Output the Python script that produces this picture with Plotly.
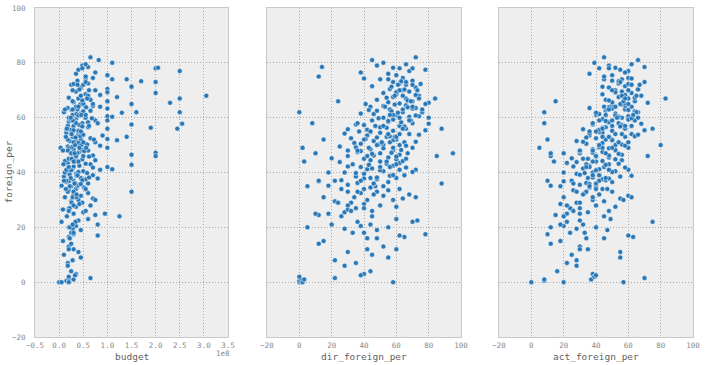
import plotly.graph_objects as go

# ---------------- data ----------------
foreign_per = [
    # 0-15
    0, 0.5, 1, 0, 1, 1.5, 3, 2, 0, 2.5,
    7, 8, 9, 10, 11, 12, 13, 14,
    # 15-25
    15, 16, 17, 17.5, 18, 19, 20, 20.5, 21, 22,
    23, 24, 24.5, 16.5, 19.5, 22.5,
    # 25-35
    25, 25.5, 26, 27, 27.5, 28, 29, 29.5, 30, 30.5,
    31, 31.5, 32, 32.5, 33, 33.5, 34, 34.5, 26.5, 28.5,
    30, 31, 33, 34, 25, 35,
    # 35-45
    35, 35.5, 36, 36.5, 37, 37.5, 38, 38.5, 39, 39.5,
    40, 40.5, 41, 41.5, 42, 42.5, 43, 43.5, 44, 44.5,
    35.2, 36.2, 37.2, 38.2, 39.2, 40.2, 41.2, 42.2, 43.2, 44.2,
    35.8, 36.8, 37.8, 38.8, 39.8, 40.8, 41.8, 42.8, 43.8, 44.8,
    # 45-55
    45, 45.5, 46, 46.5, 47, 47.5, 48, 48.5, 49, 49.5,
    50, 50.5, 51, 51.5, 52, 52.5, 53, 53.5, 54, 54.5,
    45.2, 46.2, 47.2, 48.2, 49.2, 50.2, 51.2, 52.2, 53.2, 54.2,
    45.8, 46.8, 47.8, 48.8, 49.8, 50.8, 51.8, 52.8, 53.8, 54.8,
    46, 48, 50, 52, 54, 47, 49, 51, 53, 55,
    # 55-65
    55.2, 55.6, 56, 56.5, 57, 57.5, 58, 58.5, 59, 59.5,
    60, 60.5, 61, 61.5, 62, 62.5, 63, 63.5, 64, 64.5,
    55.4, 56.3, 57.3, 58.3, 59.3, 60.3, 61.3, 62.3, 63.3, 64.3,
    55.8, 56.8, 57.8, 58.8, 59.8, 60.8, 61.8, 62.8, 63.8, 64.8,
    56, 58, 60, 62, 64, 57, 59, 61, 63, 65,
    # 65-75
    65.2, 65.6, 66, 66.5, 67, 67.5, 68, 68.5, 69, 69.5,
    70, 70.5, 71, 71.5, 72, 72.5, 73, 73.5,
    74, 74.5, 65.4, 66.3, 67.3, 68.3, 69.3, 70.3, 71.3, 72.3,
    73.3, 74.3, 66, 68, 70, 72, 74, 67,
    # 75-83
    75, 75.5, 76, 77, 77.5, 78, 78.5, 79, 80, 82,
    79.5, 76.5, 78.2, 81,
    # mixed
    62, 49, 47, 37, 20, 58, 44, 52, 66, 40,
    33, 27, 55, 48, 42, 36, 61, 53, 45, 39,
    70, 64, 57, 50, 43, 38, 31, 24, 18, 12,
    68, 63, 59, 51, 46, 41, 35, 29, 22, 16,
    72, 67, 60, 56, 49, 44, 37, 32, 26, 21,
    78, 73, 65, 54, 47, 42, 34, 28, 6, 4,
]

budget_musd = [
    0, 15, 20, 20, 30, 65, 35, 20, 5, 33,
    18, 28, 45, 10, 40, 30, 20, 25,
    8, 22, 80, 30, 25, 45, 20, 35, 80, 5,
    60, 125, 75, 20, 28, 40,
    30, 50, 55, 20, 35, 65, 48, 25, 40, 70,
    12, 45, 30, 60, 150, 20, 35, 52, 8, 42,
    75, 28, 18, 55, 95, 38,
    25, 40, 60, 15, 30, 55, 45, 10, 70, 35,
    20, 50, 85, 28, 100, 42, 65, 18, 38, 75,
    5, 33, 48, 62, 22, 40, 110, 30, 55, 12,
    45, 20, 80, 36, 58, 25, 70, 150, 32, 48,
    20, 35, 50, 150, 25, 42, 60, 30, 100, 18,
    38, 55, 75, 22, 45, 65, 28, 90, 40, 15,
    32, 70, 200, 48, 26, 58, 36, 100, 44, 24,
    62, 30, 52, 20, 85, 40, 120, 34, 50, 28,
    200, 18, 46, 72, 25, 38, 56, 30, 140, 42,
    40, 25, 100, 60, 30, 150, 48, 20, 75, 35,
    55, 100, 28, 45, 250, 65, 38, 18, 85, 52,
    30, 190, 42, 60, 22, 110, 36, 50, 100, 70,
    15, 48, 255, 32, 68, 40, 130, 26, 56, 44,
    245, 80, 20, 160, 35, 62, 100, 46, 28, 150,
    50, 30, 100, 65, 40, 120, 305, 55, 200, 35,
    75, 100, 45, 150, 25, 60, 200, 38,
    110, 70, 230, 48, 20, 85, 100, 42, 150, 30,
    170, 55, 100, 60, 28, 50, 140, 250,
    55, 100, 35, 250, 40, 200, 60, 48, 110, 65,
    55, 75, 205, 82,
    10, 3, 25, 15, 22, 35, 40, 18, 28, 12,
    30, 22, 45, 8, 20, 32, 55, 14, 26, 38,
    62, 40, 18, 33, 9, 24, 36, 16, 30, 20,
    45, 12, 28, 50, 35, 15, 22, 26, 34, 22,
    38, 58, 24, 16, 42, 30, 10, 36, 20, 28,
    48, 55, 70, 26, 32, 20, 14, 30, 18, 25,
]

dir_foreign_per = [
    0, 0, 1, 2, 3, 22, 40, 0, 58, 38,
    35, 22, 55, 45, 30, 60, 52, 12,
    15, 42, 62, 78, 33, 48, 55, 38, 20, 70,
    60, 45, 12, 65, 28, 73,
    10, 28, 45, 35, 60, 50, 32, 22, 42, 64,
    15, 52, 68, 38, 48, 55, 26, 44, 30, 40,
    58, 72, 36, 62, 18, 47,
    5, 30, 88, 55, 22, 48, 60, 35, 65, 40,
    28, 52, 72, 45, 38, 58, 33, 62, 50, 44,
    18, 36, 26, 48, 58, 70, 42, 30, 54, 64,
    46, 12, 40, 56, 35, 50, 66, 43, 25, 60,
    40, 55, 30, 62, 95, 36, 58, 44, 70, 25,
    52, 38, 65, 46, 60, 32, 54, 42, 68, 50,
    20, 46, 57, 63, 35, 49, 72, 41, 56, 28,
    60, 45, 38, 52, 66, 34, 58, 48, 74, 44,
    85, 30, 62, 40, 55, 67, 43, 51, 59, 37,
    58, 42, 66, 50, 62, 35, 70, 55, 45, 68,
    52, 74, 60, 38, 64, 48, 56, 72, 44, 66,
    78, 54, 40, 63, 58, 68, 46, 57, 70, 52,
    30, 65, 80, 55, 49, 72, 61, 43, 67, 59,
    88, 36, 62, 76, 53, 47, 69, 58, 64, 41,
    62, 55, 70, 48, 66, 58, 74, 60, 52, 68,
    64, 56, 72, 45, 66, 62, 58, 70,
    50, 64, 80, 67, 54, 72, 60, 65, 57, 75,
    63, 40, 69, 59, 73, 61, 55, 84,
    12, 60, 55, 68, 78, 62, 14, 48, 52, 72,
    66, 38, 58, 45,
    0, 2, 10, 12, 5, 8, 3, 15, 24, 18,
    30, 40, 44, 36, 50, 46, 56, 60, 66, 58,
    62, 70, 52, 48, 60, 44, 34, 26, 40, 42,
    64, 76, 68, 56, 42, 62, 52, 24, 36, 48,
    70, 74, 80, 64, 58, 54, 38, 46, 32, 44,
    70, 66, 78, 62, 50, 56, 40, 30, 28, 44,
]

act_foreign_per = [
    0, 8, 8, 20, 37, 70, 38, 39, 57, 40,
    22, 28, 55, 25, 55, 35, 30, 12,
    18, 45, 60, 10, 33, 47, 40, 20, 32, 75,
    49, 45, 15, 63, 28, 30,
    22, 35, 48, 30, 52, 40, 28, 45, 38, 55,
    20, 60, 42, 33, 50, 26, 44, 36, 25, 18,
    57, 62, 34, 47, 30, 40,
    18, 30, 40, 50, 25, 44, 35, 55, 42, 28,
    38, 52, 60, 32, 45, 36, 48, 22, 40, 56,
    12, 34, 46, 38, 30, 50, 42, 26, 54, 44,
    36, 20, 48, 62, 33, 40, 58, 46, 28, 52,
    35, 48, 12, 56, 30, 44, 52, 38, 60, 42,
    80, 34, 54, 28, 50, 40, 58, 36, 62, 44,
    25, 48, 38, 52, 42, 56, 32, 46, 64, 36,
    40, 54, 30, 48, 58, 44, 50, 34, 66, 42,
    72, 38, 52, 46, 56, 20, 44, 60, 48, 36,
    50, 42, 58, 46, 62, 38, 54, 48, 64, 44,
    56, 60, 40, 52, 66, 46, 58, 36, 62, 50,
    70, 44, 56, 48, 60, 54, 42, 64, 50, 58,
    32, 55, 68, 46, 62, 52, 40, 60, 48, 56,
    75, 38, 53, 65, 45, 58, 50, 63, 47, 55,
    58, 50, 64, 46, 60, 54, 68, 44, 62, 56,
    52, 66, 48, 58, 62, 54, 70, 50,
    56, 60, 72, 48, 64, 58, 52, 66, 44, 60,
    54, 62, 57, 65, 50, 67, 45, 83,
    45, 50, 36, 60, 55, 42, 70, 48, 39, 45,
    62, 58, 52, 66,
    8, 5, 12, 10, 12, 8, 14, 10, 15, 20,
    28, 24, 40, 30, 36, 26, 46, 44, 32, 38,
    60, 52, 50, 42, 34, 46, 38, 20, 24, 30,
    56, 48, 42, 54, 40, 48, 36, 30, 22, 34,
    62, 58, 66, 44, 50, 38, 42, 32, 26, 18,
    48, 55, 60, 52, 46, 34, 40, 22, 28, 16,
]

budget_ticks = [-0.5, 0.0, 0.5, 1.0, 1.5, 2.0, 2.5, 3.0, 3.5]   # in units of 1e8
pct_ticks = [-20, 0, 20, 40, 60, 80, 100]
x_labels = ["budget", "dir_foreign_per", "act_foreign_per"]
y_label = "foreign_per"

# ---------------- figure ----------------
n = min(len(foreign_per), len(budget_musd), len(dir_foreign_per), len(act_foreign_per))
y = foreign_per[:n]
budget = [b * 1e6 for b in budget_musd[:n]]

MONO = "DejaVu Sans Mono"
PT_COLOR = "#2878b8"
marker = dict(color=PT_COLOR, size=5, line=dict(color="white", width=0.5))

fig = go.Figure()
fig.add_trace(go.Scatter(x=budget, y=y, mode="markers", marker=marker,
                         xaxis="x", yaxis="y", showlegend=False))
fig.add_trace(go.Scatter(x=dir_foreign_per[:n], y=y, mode="markers", marker=marker,
                         xaxis="x2", yaxis="y2", showlegend=False))
fig.add_trace(go.Scatter(x=act_foreign_per[:n], y=y, mode="markers", marker=marker,
                         xaxis="x3", yaxis="y3", showlegend=False))

W, H = 705, 365
ml, mr, mt, mb = 35, 12, 8, 28
pw = W - ml - mr

def dom(a, b):
    return [(a - ml) / pw, (b - ml) / pw]

axis_common = dict(
    showgrid=True, gridcolor="#aaaaaa", griddash="1px,2px", gridwidth=1,
    zeroline=False, showline=True, linecolor="#c8c8c8", linewidth=1, mirror=True,
    ticks="", tickfont=dict(family=MONO, size=7.5, color="#8a8a8a"),
    automargin=False,
)

fmt = lambda v: ("\u2212" if v < 0 else "") + f"{abs(v):.1f}"

fig.update_layout(
    width=W, height=H,
    margin=dict(l=ml, r=mr, t=mt, b=mb),
    paper_bgcolor="white", plot_bgcolor="#EEEEEE",
    xaxis=dict(domain=dom(35, 228), range=[-0.5e8, 3.5e8],
               tickvals=[t * 1e8 for t in budget_ticks],
               ticktext=[fmt(t) for t in budget_ticks],
               ticklabelstandoff=1, anchor="y", **axis_common),
    xaxis2=dict(domain=dom(267, 461), range=[-20, 100], tickvals=pct_ticks,
                ticklabelstandoff=1, anchor="y2", **axis_common),
    xaxis3=dict(domain=dom(499, 693), range=[-20, 100], tickvals=pct_ticks,
                ticklabelstandoff=1, anchor="y3", **axis_common),
    yaxis=dict(domain=[0, 1], range=[-20, 100], tickvals=pct_ticks,
               ticklabelstandoff=7, anchor="x", **axis_common),
    yaxis2=dict(domain=[0, 1], range=[-20, 100], tickvals=pct_ticks, matches="y",
                showticklabels=False, anchor="x2", **axis_common),
    yaxis3=dict(domain=[0, 1], range=[-20, 100], tickvals=pct_ticks, matches="y",
                showticklabels=False, anchor="x3", **axis_common),
)

title_font = dict(family=MONO, size=9.5, color="#606060")
annotations = []
centers = [(35 + 228) / 2, (267 + 461) / 2, (499 + 693) / 2]
for c, lab in zip(centers, x_labels):
    annotations.append(dict(text=lab, xref="paper", yref="paper",
                            x=(c - ml) / pw, y=0, yshift=-19.5,
                            xanchor="center", yanchor="middle",
                            showarrow=False, font=title_font))
annotations.append(dict(text="1e8", xref="paper", yref="paper",
                        x=(232 - ml) / pw, y=0, yshift=-16.5,
                        xanchor="right", yanchor="middle", showarrow=False,
                        font=dict(family=MONO, size=7.5, color="#8a8a8a")))
annotations.append(dict(text=y_label, xref="paper", yref="paper",
                        x=0, xshift=-27, y=0.5, textangle=-90,
                        xanchor="center", yanchor="middle", showarrow=False,
                        font=title_font))
fig.update_layout(annotations=annotations)

fig.write_html("out.html", config={"displayModeBar": False},
               post_script="document.body.style.margin='0';document.body.style.overflow='hidden';")
